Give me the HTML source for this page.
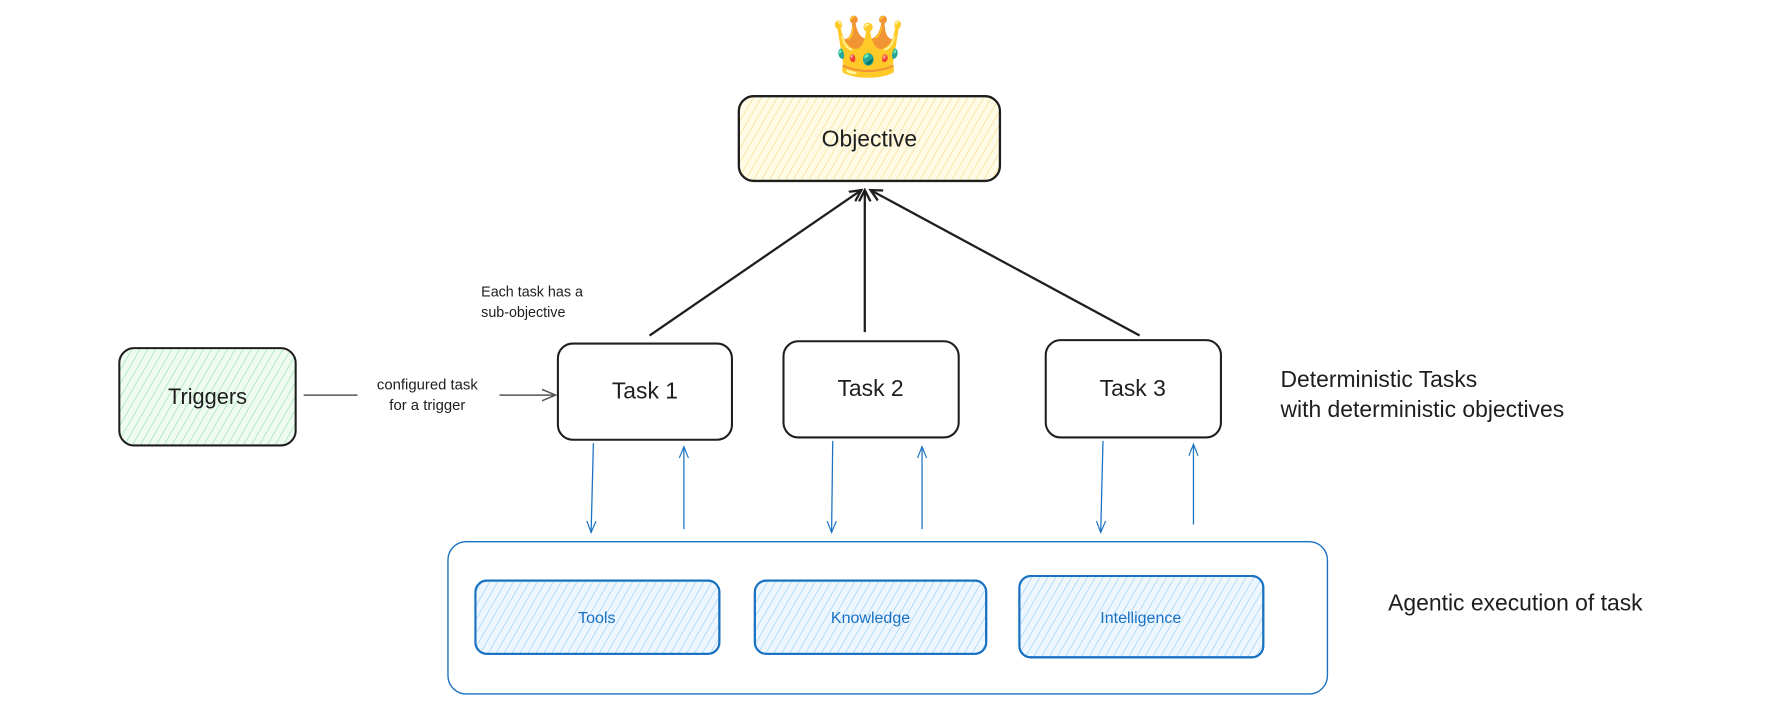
<!DOCTYPE html>
<html><head><meta charset="utf-8"><style>
html,body{margin:0;padding:0;background:#fff;width:1788px;height:714px;overflow:hidden}
svg{display:block}
text{font-family:"Liberation Sans",sans-serif;fill:#1e1e1e}
</style></head><body>
<svg width="1788" height="714" viewBox="0 0 1561 623.5" xmlns="http://www.w3.org/2000/svg">
<defs>
<pattern id="hy" width="6" height="6" patternUnits="userSpaceOnUse" patternTransform="rotate(30)"><line x1="0" y1="0" x2="0" y2="6" stroke="#f5d77a" stroke-width="1"/></pattern>
<pattern id="hg" width="6" height="6" patternUnits="userSpaceOnUse" patternTransform="rotate(30)"><line x1="0" y1="0" x2="0" y2="6" stroke="#8fdca3" stroke-width="1"/></pattern>
<pattern id="hb" width="6" height="6" patternUnits="userSpaceOnUse" patternTransform="rotate(30)"><line x1="0" y1="0" x2="0" y2="6" stroke="#8ec9f5" stroke-width="1"/></pattern>
<marker id="ab" markerWidth="12" markerHeight="12" refX="10" refY="6" orient="auto" markerUnits="userSpaceOnUse"><path d="M0,1 L10,6 L0,11" fill="none" stroke="#1e1e1e" stroke-width="2"/></marker>
<marker id="ag" markerWidth="14" markerHeight="12" refX="12" refY="6" orient="auto" markerUnits="userSpaceOnUse"><path d="M0,1 L12,6 L0,11" fill="none" stroke="#555" stroke-width="1.3"/></marker>
<marker id="abl" markerWidth="12" markerHeight="12" refX="10" refY="5" orient="auto" markerUnits="userSpaceOnUse"><path d="M0,1 L10,5 L0,9" fill="none" stroke="#1971c2" stroke-width="1"/></marker>
</defs>
<text x="758" y="58" font-size="52" text-anchor="middle" style="font-family:'Noto Color Emoji','DejaVu Sans',sans-serif">👑</text>
<rect x="645" y="84" width="228" height="74" rx="13" fill="#fffbe6"/>
<rect x="645" y="84" width="228" height="74" rx="13" fill="url(#hy)" stroke="#1e1e1e" stroke-width="2"/>
<text x="759" y="128" font-size="20" text-anchor="middle">Objective</text>
<line x1="567" y1="293" x2="752" y2="166" stroke="#1e1e1e" stroke-width="2" marker-end="url(#ab)"/>
<line x1="755" y1="290" x2="755" y2="166" stroke="#1e1e1e" stroke-width="2" marker-end="url(#ab)"/>
<line x1="995" y1="293" x2="760" y2="166" stroke="#1e1e1e" stroke-width="2" marker-end="url(#ab)"/>
<text x="420" y="259" font-size="12.5">Each task has a</text>
<text x="420" y="277" font-size="12.5">sub-objective</text>
<rect x="104" y="304" width="154" height="85" rx="13" fill="#eefbf1"/>
<rect x="104" y="304" width="154" height="85" rx="13" fill="url(#hg)" stroke="#1e1e1e" stroke-width="1.8"/>
<text x="181" y="353" font-size="19" text-anchor="middle">Triggers</text>
<line x1="265" y1="345" x2="312" y2="345" stroke="#555" stroke-width="1.3"/>
<line x1="436" y1="345" x2="485" y2="345" stroke="#555" stroke-width="1.3" marker-end="url(#ag)"/>
<text x="373" y="340" font-size="13" text-anchor="middle">configured task</text>
<text x="373" y="358" font-size="13" text-anchor="middle">for a trigger</text>
<rect x="487" y="300" width="152" height="84" rx="13" fill="#fff" stroke="#1e1e1e" stroke-width="1.8"/>
<text x="563" y="348" font-size="20" text-anchor="middle">Task 1</text>
<rect x="684" y="298" width="153" height="84" rx="13" fill="#fff" stroke="#1e1e1e" stroke-width="1.8"/>
<text x="760" y="346" font-size="20" text-anchor="middle">Task 2</text>
<rect x="913" y="297" width="153" height="85" rx="13" fill="#fff" stroke="#1e1e1e" stroke-width="1.8"/>
<text x="989" y="346" font-size="20" text-anchor="middle">Task 3</text>
<text x="1118" y="338" font-size="20">Deterministic Tasks</text>
<text x="1118" y="364" font-size="20">with deterministic objectives</text>
<g stroke="#1971c2" stroke-width="1.1" fill="none">
<line x1="518" y1="387" x2="516" y2="465" marker-end="url(#abl)"/>
<line x1="597" y1="462" x2="597" y2="390" marker-end="url(#abl)"/>
<line x1="727" y1="385" x2="726" y2="465" marker-end="url(#abl)"/>
<line x1="805" y1="462" x2="805" y2="390" marker-end="url(#abl)"/>
<line x1="963" y1="385" x2="961" y2="465" marker-end="url(#abl)"/>
<line x1="1042" y1="458" x2="1042" y2="388" marker-end="url(#abl)"/>
</g>
<rect x="391" y="473" width="768" height="133" rx="16" fill="none" stroke="#1971c2" stroke-width="1.2"/>
<g stroke="#1971c2" stroke-width="1.8">
<rect x="415" y="507" width="213" height="64" rx="10" fill="#eef7ff"/>
<rect x="659" y="507" width="202" height="64" rx="10" fill="#eef7ff"/>
<rect x="890" y="503" width="213" height="71" rx="10" fill="#eef7ff"/>
<rect x="415" y="507" width="213" height="64" rx="10" fill="url(#hb)"/>
<rect x="659" y="507" width="202" height="64" rx="10" fill="url(#hb)"/>
<rect x="890" y="503" width="213" height="71" rx="10" fill="url(#hb)"/>
</g>
<text x="521" y="544" font-size="14" text-anchor="middle" style="fill:#1971c2">Tools</text>
<text x="760" y="544" font-size="14" text-anchor="middle" style="fill:#1971c2">Knowledge</text>
<text x="996" y="544" font-size="14" text-anchor="middle" style="fill:#1971c2">Intelligence</text>
<text x="1212" y="533" font-size="20">Agentic execution of task</text>
</svg>
</body></html>
